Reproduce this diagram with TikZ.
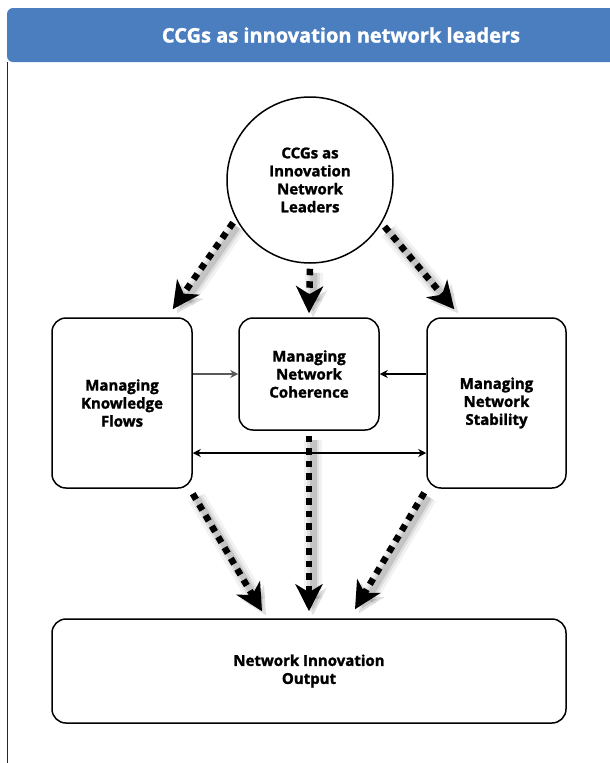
\documentclass[tikz,border=0pt]{standalone}
\usepackage{fontspec}
\setmainfont{Open Sans}[BoldFeatures={FakeBold=1.5}]
\usetikzlibrary{arrows.meta,calc}
\definecolor{hdrblue}{RGB}{74,126,191}
\newcommand\bxfont{\fontsize{15}{18}\selectfont\bfseries}
\newcommand\shadowarrow[2]{%
  \begin{scope}[transform canvas={shift={(4pt,-4pt)}}]
    \draw[line width=18pt, black, opacity=0.05, shorten >=16pt] #1 -- #2;
    \draw[line width=12pt, black, opacity=0.08, shorten >=16pt] #1 -- #2;
    \draw[line width=7pt, black, opacity=0.12, -{Stealth[length=27pt,width=27pt,inset=8pt]}] #1 -- #2;
  \end{scope}
  \draw[dotarrow] #1 -- #2;}
\begin{document}
\begin{tikzpicture}[x=1pt,y=-1pt,
  box/.style={draw, line width=1.5pt, rounded corners=14pt, align=center, font=\bxfont, inner sep=2pt},
  dotarrow/.style={line width=6.5pt, dash pattern=on 6.5pt off 6pt, -{Stealth[length=27pt,width=27pt,inset=8pt]}},
  thinarrow/.style={line width=1.3pt, -{Stealth[length=8pt,width=8pt,inset=2.5pt]}},
]
\useasboundingbox (0,0) rectangle (610,763);
% header
\fill[hdrblue, rounded corners=6pt] (7,8) rectangle (625,62);
\node[text=white, font=\fontsize{20}{22}\selectfont\bfseries] (title) at (341,35) {CCGs as innovation network leaders};
\draw[line width=1pt, black!85] (7.5,62) -- (7.5,763);
% nodes
\node[circle, draw, line width=1.5pt, minimum size=166pt, inner sep=0pt, align=center, font=\bxfont] (lead) at (310,180) {CCGs as\\Innovation\\Network\\Leaders};
\node[box, minimum width=140pt, minimum height=170pt] (kf) at (122,403) {Managing\\Knowledge\\Flows};
\node[box, minimum width=140pt, minimum height=112pt] (coh) at (309,374) {Managing\\Network\\Coherence};
\node[box, minimum width=139pt, minimum height=170pt] (stab) at (496.5,403) {Managing\\Network\\Stability};
\node[box, minimum width=514pt, minimum height=104pt] (out) at (309,671) {Network Innovation\\Output};
% thin arrows
\draw[thinarrow, black!65] (kf.east |- coh.west) -- (coh.west);
\draw[thinarrow] (stab.west |- coh.east) -- (coh.east);
\draw[thinarrow, {Stealth[length=8pt,width=8pt,inset=2.5pt]}-{Stealth[length=8pt,width=8pt,inset=2.5pt]}] ([yshift=-50pt]kf.east) -- ([yshift=-50pt]stab.west);
% dotted arrows
\shadowarrow{($(lead.center)!1.05!(lead.209)$)}{([xshift=-20pt,yshift=8pt]kf.north east)}
\shadowarrow{([yshift=-5pt]lead.south)}{([yshift=4pt]coh.north)}
\shadowarrow{($(lead.center)!1.05!(lead.328)$)}{([xshift=28pt,yshift=8pt]stab.north west)}
\shadowarrow{([yshift=-5pt]kf.south east)}{([xshift=-47pt,yshift=7pt]out.north)}
\shadowarrow{([yshift=-5pt]coh.south)}{([yshift=7pt]out.north)}
\shadowarrow{([xshift=-2pt,yshift=-4pt]stab.south west)}{([xshift=46pt,yshift=9pt]out.north)}
\end{tikzpicture}
\end{document}
